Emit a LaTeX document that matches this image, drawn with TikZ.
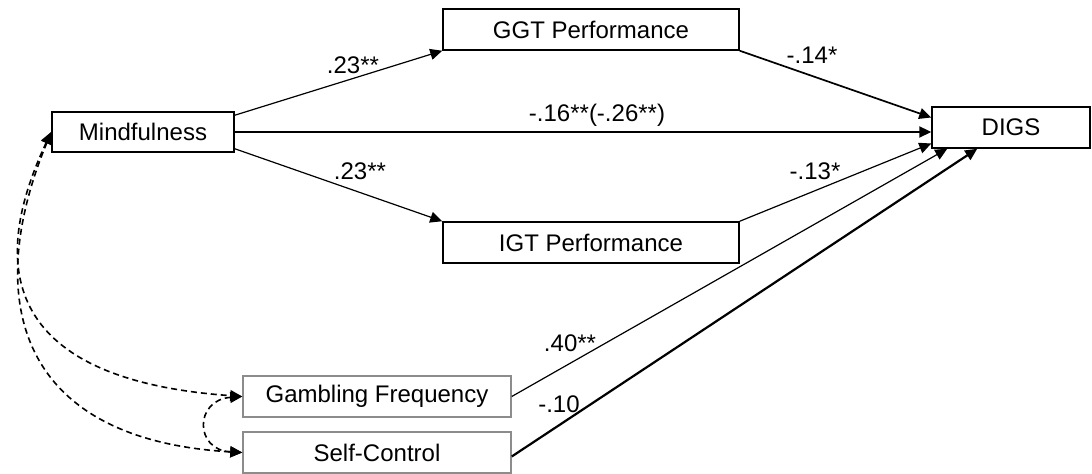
\documentclass[tikz,border=0pt]{standalone}
\usepackage{fontspec}
\setmainfont{Liberation Sans}
\usetikzlibrary{arrows.meta}
\begin{document}
\begin{tikzpicture}[x=0.5pt,y=-0.5pt,
  box/.style={draw=black,line width=0.75pt,fill=white,minimum width=#1,minimum height=20.5pt,inner sep=0pt,font=\fontsize{12}{14}\selectfont},
  graybox/.style={box=#1,draw=black!45},
  lbl/.style={inner sep=0pt,font=\fontsize{12}{14}\selectfont},
  tip/.style={-{Triangle[length=6pt,width=5.5pt]}},
  thinpath/.style={tip,line width=0.6pt},
  thickpath/.style={tip,line width=1.1pt},
  midpath/.style={tip,line width=0.85pt},
  corr/.style={{Triangle[length=6pt,width=5.5pt]}-{Triangle[length=6pt,width=5.5pt]},line width=0.8pt,dash pattern=on 3pt off 2pt}
]
\useasboundingbox (0,0) rectangle (1092,474);
\node[box=91pt,minimum height=20pt] (mind) at (143,132) {Mindfulness};
\node[box=148pt] (ggt) at (591,29.5) {GGT Performance};
\node[box=148pt] (igt) at (591,242.5) {IGT Performance};
\node[box=79pt] (digs) at (1011,127.5) {DIGS};
\node[graybox=134pt] (gf) at (377,396.5) {Gambling Frequency};
\node[graybox=134pt] (sc) at (377,452.5) {Self-Control};

\draw[thinpath] ([yshift=-2pt]mind.north east) -- (ggt.south west);
\draw[thickpath] (mind.east) -- (mind.east -| digs.west);
\draw[thinpath] ([yshift=2pt]mind.south east) -- (igt.north west);
\draw[midpath] (ggt.south east) -- ([yshift=5pt]digs.west);
\draw[thinpath] (igt.north east) -- ([yshift=-8pt]digs.west);
\draw[thinpath] (gf.east) -- ([xshift=8pt]digs.south west);
\draw[thickpath] ([yshift=-2pt]sc.east) -- ([xshift=23pt]digs.south west);

\draw[corr] (mind.west) .. controls +(-66,140) and +(-233,-16.5) .. (gf.west);
\draw[corr] (mind.west) .. controls +(-70,170) and +(-223,-12.5) .. (sc.west);
\draw[corr] (gf.west) .. controls +(-48,3.5) and +(-48,-2.5) .. (sc.west);

\node[lbl] (l1) at (353,65) {.23**};
\node[lbl] (l2) at (597,115) {-.16**(-.26**)};
\node[lbl] (l3) at (360,171) {.23**};
\node[lbl] (l4) at (812,55) {-.14*};
\node[lbl] (l5) at (815,171) {-.13*};
\node[lbl] (l6) at (570,343) {.40**};
\node[lbl] (l7) at (559,404) {-.10};
\end{tikzpicture}
\end{document}
